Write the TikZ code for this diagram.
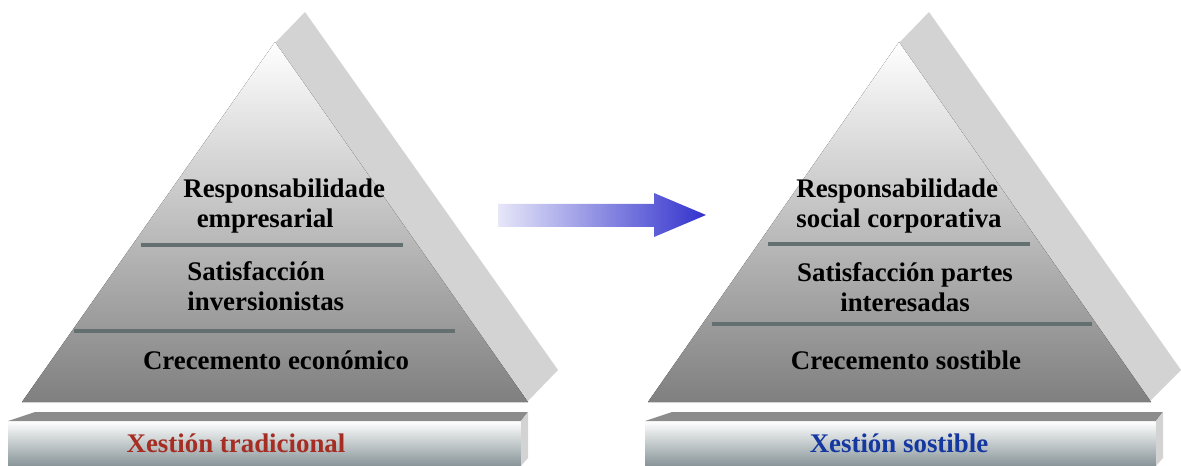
\documentclass[tikz,border=0pt]{standalone}
\usepackage{fontspec}
\setmainfont{Liberation Serif}
\usetikzlibrary{calc}
\definecolor{slabgray}{RGB}{211,211,211}
\definecolor{linegray}{RGB}{100,112,112}
\definecolor{basetop}{RGB}{140,140,140}
\definecolor{basebot}{RGB}{135,148,152}
\definecolor{tradred}{RGB}{165,45,35}
\definecolor{sostblue}{RGB}{20,55,160}
\definecolor{arrowblue}{RGB}{50,50,205}
\tikzstyle{slab}=[fill=slabgray,draw=none]
\tikzstyle{pyramid}=[top color=white,bottom color=black!50,draw=none]
\tikzstyle{divider}=[draw=linegray,line width=2.3pt]
\tikzstyle{barfront}=[top color=white,bottom color=basebot,draw=none]
\tikzstyle{bartop}=[fill=basetop,draw=none]
\tikzstyle{barside}=[fill=slabgray,draw=none]
\tikzstyle{tiertext}=[font=\fontsize{15.3}{17}\selectfont\bfseries,inner sep=0pt]
\begin{document}
\begin{tikzpicture}[x=0.02cm,y=-0.02cm]
    \useasboundingbox (0,0) rectangle (1181,466);

    % slabs behind the pyramids
    \fill[slab] (275,43) -- (305,12) -- (558,370) -- (528,401) -- cycle;
    \fill[slab] (899,43) -- (929,12) -- (1181,370) -- (1150,401) -- cycle;

    % pyramids
    \fill[pyramid] (275,42) -- (528,402) -- (22,402) -- cycle;
    \fill[pyramid] (899,42) -- (1151,402) -- (648,402) -- cycle;

    % tier lines
    \foreach \y/\xa/\xb in {245/141/403, 331/74/455, 244/768/1030, 324/712/1092}
        \draw[divider] (\xa,\y) -- (\xb,\y);

    % base bars
    \foreach \xa/\xb in {8/521, 645/1156} {
        \fill[barfront] (\xa,421) rectangle (\xb,466);
        \fill[bartop] (\xa,421) -- ($(\xa,412)+(27,0)$) -- ($(\xb,412)+(7,0)$) -- (\xb,421) -- cycle;
        \fill[barside] (\xb,421) -- ($(\xb,412)+(7,0)$) -- ($(\xb,458)+(7,0)$) -- (\xb,466) -- cycle;
    }

    % arrow
    \shade[left color=arrowblue!12,middle color=arrowblue!85,right color=arrowblue]
        (498,204) -- (654,204) -- (654,193) -- (706,215) -- (654,237) -- (654,227) -- (498,227) -- cycle;

    % left pyramid texts
    \node[tiertext,anchor=west,align=left] (resp) at (183,206) {Responsabilidade\\\hspace*{0.5em}empresarial};
    \node[tiertext,anchor=west,align=left] (satinv) at (187,286) {Satisfacción\\inversionistas};
    \node[tiertext] (crecec) at (276,360) {Crecemento económico};
    \node[tiertext,text=tradred] (tradic) at (236,443) {Xestión tradicional};

    % right pyramid texts
    \node[tiertext,anchor=west,align=left] (respsoc) at (796,206) {Responsabilidade\\social corporativa};
    \node[tiertext,align=center] (satpart) at (905,287) {Satisfacción partes\\interesadas};
    \node[tiertext] (crecsost) at (906,360) {Crecemento sostible};
    \node[tiertext,text=sostblue] (sostib) at (899,443) {Xestión sostible};

\end{tikzpicture}
\end{document}
